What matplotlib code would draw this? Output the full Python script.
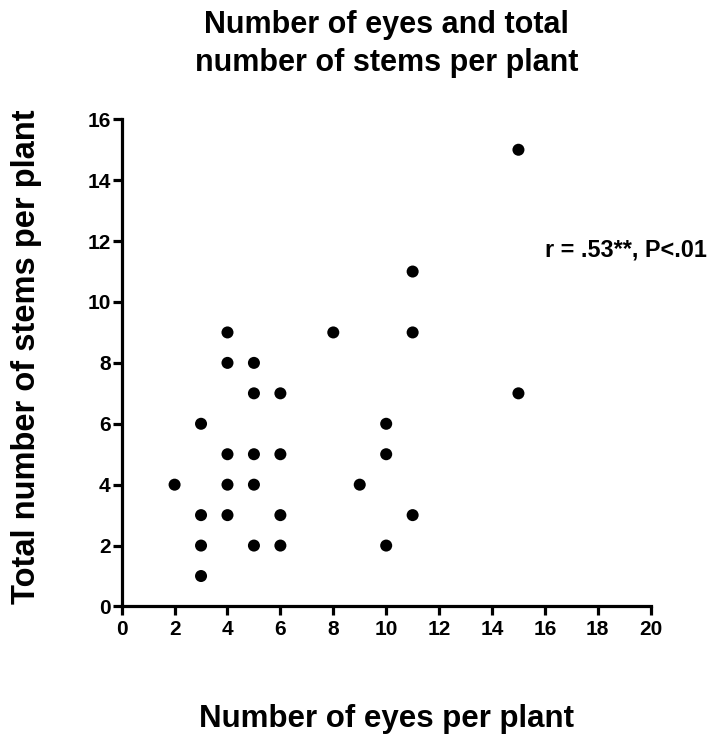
import matplotlib
matplotlib.use("Agg")
import matplotlib.pyplot as plt

# Data
eyes = [2, 3, 3, 3, 3, 4, 4, 4, 4, 4, 5, 5, 5, 5, 5, 6, 6, 6, 6, 8, 9, 10, 10, 10, 11, 11, 11, 15, 15]
stems = [4, 6, 3, 2, 1, 9, 8, 5, 4, 3, 8, 7, 5, 4, 2, 7, 5, 3, 2, 9, 4, 6, 5, 2, 11, 9, 3, 15, 7]
x_ticks = [0, 2, 4, 6, 8, 10, 12, 14, 16, 18, 20]
y_ticks = [0, 2, 4, 6, 8, 10, 12, 14, 16]
title = "Number of eyes and total\nnumber of stems per plant"
x_label = "Number of eyes per plant"
y_label = "Total number of stems per plant"
annotation = "r = .53**, P<.01"

plt.rcParams['font.family'] = ['Liberation Sans', 'DejaVu Sans']
plt.rcParams['font.weight'] = 'bold'

fig = plt.figure(figsize=(7.12, 7.36), dpi=100)
ax = fig.add_axes([0.1709, 0.1760, 0.7430, 0.6619])

ax.scatter(eyes, stems, s=75, color='black', edgecolors='none', zorder=3, clip_on=False)

ax.set_xlim(0, 20)
ax.set_ylim(0, 16)
ax.set_xticks(x_ticks)
ax.set_yticks(y_ticks)
ax.set_xticklabels([str(t) for t in x_ticks], fontsize=15, fontweight='bold')
ax.set_yticklabels([str(t) for t in y_ticks], fontsize=15, fontweight='bold')

for side in ['top', 'right']:
    ax.spines[side].set_visible(False)
for side in ['left', 'bottom']:
    ax.spines[side].set_linewidth(2.3)
    ax.spines[side].set_capstyle('projecting')

ax.tick_params(axis='both', direction='out', width=2.3, length=6.5, color='black')
ax.tick_params(axis='x', pad=3.0)
ax.tick_params(axis='y', pad=1.5)

ax.set_title(title, fontsize=22, fontweight='bold', linespacing=1.32, pad=35)

ax.set_xlabel(x_label, fontsize=22.5, fontweight='bold')
ax.xaxis.label.set_va('baseline')
ax.xaxis.set_label_coords(0.5, -0.2473)

ax.set_ylabel(y_label, fontsize=23.5, fontweight='bold')
ax.yaxis.label.set_va('baseline')
ax.yaxis.set_label_coords(-0.1645, 0.512)

ax.text(16.0, 11.5, annotation, fontsize=16.8, fontweight='bold', va='baseline', ha='left', clip_on=False)

fig.savefig("out.png", dpi=100)
